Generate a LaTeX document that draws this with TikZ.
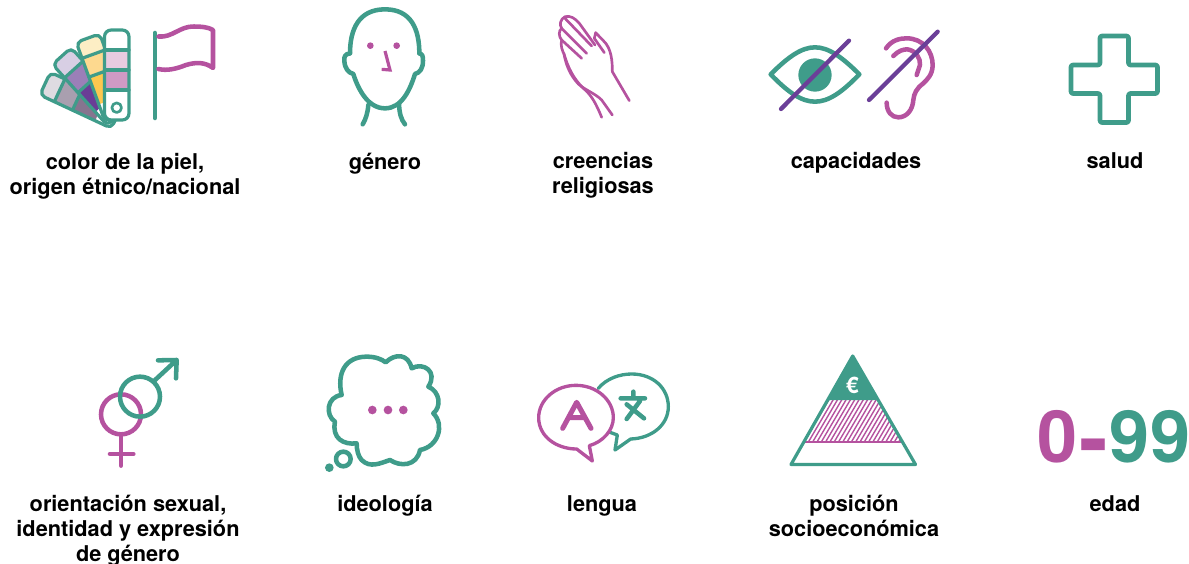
\documentclass[tikz,border=0pt]{standalone}
\usepackage{fontspec}
\setmainfont{TeX Gyre Heros}
\definecolor{teal1}{HTML}{3F9C8A}
\definecolor{mag}{HTML}{B5529F}
\definecolor{purp}{HTML}{6B3F98}
\definecolor{ga}{HTML}{DEDBE1}\definecolor{gb}{HTML}{A99FAF}\definecolor{gc}{HTML}{86758F}
\definecolor{pa}{HTML}{D8CFE4}\definecolor{pb}{HTML}{9B7FB8}\definecolor{pc}{HTML}{6A3D96}
\definecolor{ya}{HTML}{FDEEC5}\definecolor{yb}{HTML}{FDD98F}\definecolor{yc}{HTML}{FDC84F}
\definecolor{sa}{HTML}{E8CBE0}\definecolor{sb}{HTML}{D09AC4}
\tikzset{
 x=0.75pt,y=-0.75pt,
 lab/.style={align=center,anchor=base,font=\fontsize{16.3}{18.75}\selectfont\bfseries,inner sep=0pt,text=black},
 tl/.style={draw=teal1,line width=3.4pt,line cap=round,line join=round},
 ml/.style={draw=mag,line width=3.4pt,line cap=round,line join=round},
 pl/.style={draw=purp,line width=3.2pt,line cap=round},
 thintl/.style={draw=teal1,line width=2.4pt,line join=round,line cap=round},
 thinml/.style={draw=mag,line width=2pt,line join=round,line cap=round},
 big/.style={font=\fontsize{54}{54}\selectfont\bfseries,inner sep=0pt},
}
% angle, three colours, length, two row distances
\newcommand{\fancard}[7]{%
 \begin{scope}[shift={(116.7,117)},rotate=#1]
  \fill[white,rounded corners=4pt] (-12.5,0) rectangle (12.5,-#5);
  \begin{scope}
   \clip[rounded corners=4pt] (-12.5,0) rectangle (12.5,-#5);
   \fill[#2] (-12.5,-#6) rectangle (12.5,-#5);
   \fill[#3] (-12.5,-#7) rectangle (12.5,-#6);
   \fill[#4] (-12.5,-18) rectangle (12.5,-#7);
  \end{scope}
  \draw[thintl,rounded corners=4pt] (-12.5,0) rectangle (12.5,-#5);
  \draw[thintl] (-12.5,-#6) -- (12.5,-#6) (-12.5,-#7) -- (12.5,-#7);
 \end{scope}}
\begin{document}
\begin{tikzpicture}
\useasboundingbox (0,0) rectangle (1189,564);
% palette
\fancard{65}{ga}{gb}{gc}{79}{63}{43}
\fancard{42}{pa}{pb}{pc}{82}{64}{44}
\fancard{20}{ya}{yb}{yc}{84}{67}{47}
\fill[white,rounded corners=5pt] (104.5,30) rectangle (129,120);
\fill[sa] (104.5,50) rectangle (129,70);
\fill[sb] (104.5,70) rectangle (129,90);
\draw[thintl,rounded corners=5pt] (104.5,30) rectangle (129,120);
\draw[thintl] (104.5,50) -- (129,50) (104.5,70) -- (129,70) (104.5,90) -- (129,90);
\draw[thintl,line width=2pt] (116.7,107.7) circle (4.8);
% flag
\draw[tl] (155,33) -- (155,118);
\draw[ml] (158.5,36.5) .. controls (172,38) and (180,26) .. (194,26.5) .. controls (201,26.5) and (208,27) .. (213,30) -- (213,68) .. controls (205,62) and (196,62) .. (186,65) .. controls (176,69) and (167,71) .. (158.5,69);
% head
\begin{scope}[shift={(330,0)},scale=1/3]
\draw[tl] (60,160) .. controls (60,90) and (85,28) .. (165,28) .. controls (245,28) and (268,90) .. (268,160);
\draw[tl] (60,160) .. controls (45,162) and (42,170) .. (43,182) .. controls (44,205) and (55,218) .. (70,222) .. controls (85,270) and (115,325) .. (165,325) .. controls (215,325) and (240,270) .. (255,222) .. controls (270,218) and (279,205) .. (279,182) .. controls (279,170) and (278,162) .. (268,160);
\draw[tl] (115,315) .. controls (113,340) and (107,358) .. (98,373);
\draw[tl] (207,310) .. controls (208,340) and (213,358) .. (225,373);
\fill[mag] (121,137) circle (10) (200,137) circle (10);
\draw[ml,line width=2.4pt,line cap=butt,line join=miter] (165,153) -- (180,210) -- (155,208);
\end{scope}
% hands
\begin{scope}[shift={(550,10)},scale=1/3,every path/.style={thinml}]
\draw (45,20) .. controls (62,16) and (75,25) .. (88,40) -- (135,105);
\draw (45,25) -- (125,108);
\draw (45,20) .. controls (30,28) and (28,45) .. (35,55) -- (110,130);
\draw (35,55) .. controls (25,62) and (26,80) .. (35,90) -- (95,145);
\draw (35,90) .. controls (30,105) and (38,125) .. (42,132) .. controls (48,165) and (60,195) .. (85,222) .. controls (105,240) and (135,250) .. (155,270) -- (187,315);
\draw (42,132) .. controls (55,175) and (70,205) .. (100,235) .. controls (125,255) and (140,285) .. (155,322);
\draw (163,128) -- (133,85) -- (137,68) -- (160,92) .. controls (185,115) and (187,155) .. (187,185) -- (238,272);
\end{scope}
% eye
\begin{scope}[shift={(760,20)},scale=1/3]
\draw[tl] (32,163) .. controls (85,110) and (125,82) .. (165,82) .. controls (205,82) and (245,110) .. (298,163) .. controls (245,218) and (205,245) .. (165,245) .. controls (125,245) and (85,218) .. (32,163) -- cycle;
\fill[teal1] (165,165) circle (50);
\draw[pl] (63,267) -- (267,62);
\draw[ml] (378,85) .. controls (395,60) and (420,55) .. (440,55) .. controls (490,55) and (518,95) .. (518,135) .. controls (518,165) and (500,180) .. (490,190) .. controls (470,205) and (462,220) .. (460,240) .. controls (458,270) and (440,292) .. (415,292) .. controls (395,292) and (380,275) .. (380,248);
\draw[ml] (400,108) .. controls (415,92) and (430,88) .. (442,88) .. controls (468,92) and (482,115) .. (480,135) -- (470,165);
\draw[pl] (327,240) -- (533,35);
\end{scope}
% cross
\draw[tl,line width=3.5pt,rounded corners=1.5pt] (1100,36) -- (1128.5,36) -- (1128.5,65) -- (1157.5,65) -- (1157.5,93.5) -- (1128.5,93.5) -- (1128.5,122.5) -- (1100,122.5) -- (1100,93.5) -- (1071,93.5) -- (1071,65) -- (1100,65) -- cycle;
% gender
\begin{scope}[shift={(80,345)},scale=1/3]
\draw[ml] (123,208) circle (60);
\draw[ml] (123,268) -- (123,362) (90,327) -- (160,327);
\draw[tl] (180,155) circle (60);
\draw[tl] (222,108) -- (290,45) (234,46) -- (290,45) -- (288,100);
\end{scope}
% cloud
\begin{scope}[shift={(80,345)},scale=1/3]
\draw[tl] (785,150) .. controls (770,85) and (795,35) .. (860,35) .. controls (885,35) and (905,42) .. (917,52)
 .. controls (945,25) and (985,25) .. (995,70) .. controls (1030,50) and (1075,80) .. (1045,125)
 .. controls (1080,140) and (1085,185) .. (1060,205) .. controls (1095,240) and (1075,305) .. (1020,315)
 .. controls (1010,365) and (960,365) .. (930,345) .. controls (900,355) and (870,370) .. (845,345) .. controls (835,335) and (830,315) .. (830,295)
 .. controls (790,300) and (755,280) .. (765,230) .. controls (735,210) and (740,155) .. (785,150) -- cycle;
\draw[tl] (790,342) circle (22);
\fill[teal1] (748,368) circle (13);
\fill[mag] (877,195) circle (13) (924,195) circle (13) (970,195) circle (13);
\end{scope}
% bubbles
\begin{scope}[shift={(530,345)},scale=1/3]
\draw[tl,line width=2.5pt] (205,130) .. controls (230,100) and (270,87) .. (305,87) .. controls (370,87) and (415,130) .. (415,185) .. controls (415,240) and (365,280) .. (302,282) -- (255,315) -- (262,270) -- (240,262);
\draw[ml,line width=2.5pt] (138,121) .. controls (200,121) and (250,165) .. (250,218) .. controls (250,255) and (220,290) .. (178,302) -- (187,348) -- (140,312) .. controls (80,312) and (26,275) .. (26,218) .. controls (26,165) and (76,121) .. (138,121) -- cycle;
\draw[ml,line width=3.8pt] (98,250) -- (140,172) -- (183,250) (115,218) -- (165,218);
\draw[tl,line width=3.4pt] (272,160) -- (345,160) (310,140) -- (310,160) (330,168) -- (290,222) (290,178) -- (342,220);
\end{scope}
% pyramid
\begin{scope}
\clip (827.5,400) -- (877.9,400) -- (901.7,441.7) -- (803.7,441.7) -- cycle;
\foreach \i in {0,...,30}{\draw[mag,line width=1.05pt] (790+4.3*\i,444) -- (790+4.3*\i+27,398);}
\end{scope}
\fill[teal1] (852.7,356) -- (877.9,400) -- (827.5,400) -- cycle;
\draw[draw=mag,line width=1.5pt] (804,442) -- (901.5,442);
\draw[thintl] (852.7,356) -- (915.5,464.5) -- (791,464.5) -- cycle;
\node[font=\fontsize{17}{17}\selectfont\bfseries,text=white,inner sep=0pt] (eur) at (852.5,385) {€};
% big numbers
\node[big,text=mag] (zero) at (1057.7,436.7) {0};
\node[big,text=mag,scale=1.2] (dash) at (1094,454) {-};
\node[big,text=teal1] (nines) at (1150,436.7) {99};
% labels
\node[lab] (l1) at (125,194.5) {color de la piel,\\origen étnico/nacional};
\node[lab] (l2) at (385,169) {género};
\node[lab] (l3) at (603,193.5) {creencias\\religiosas};
\node[lab] (l4) at (856,168.5) {capacidades};
\node[lab] (l5) at (1115,168.5) {salud};
\node[lab] (l6) at (128,561) {orientación sexual,\\identidad y expresión\\de género};
\node[lab] (l7) at (385,511) {ideología};
\node[lab] (l8) at (602,511) {lengua};
\node[lab] (l9) at (854,536) {posición\\socioeconómica};
\node[lab] (l10) at (1115,511) {edad};
\end{tikzpicture}
\end{document}
